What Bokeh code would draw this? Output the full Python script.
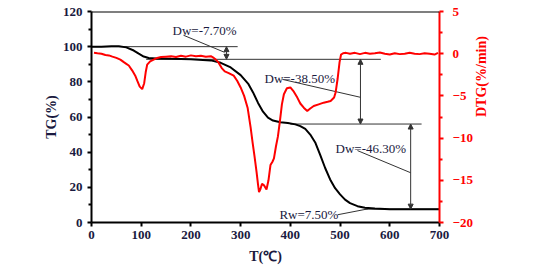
import math
from bokeh.plotting import figure
from bokeh.models import (Range1d, LinearAxis, FixedTicker, Span, Arrow, NormalHead, Label)
from bokeh.core.properties import value
from bokeh.embed import file_html
from bokeh.resources import INLINE

# ---------------- data ----------------
tg_T = [0, 20, 40, 55, 70, 85, 95, 105, 115, 130, 160, 200, 240, 260, 280, 300, 315, 325,
        335, 345, 355, 365, 380, 395, 410, 420, 430, 440, 450, 460, 470, 480, 490, 500,
        510, 520, 535, 550, 570, 600, 650, 700]
tg_val = [100, 100, 100.3, 100.3, 99.6, 97.8, 96.0, 94.4, 93.6, 93.3, 93.1, 92.9, 92.2,
          90.8, 88.2, 83.8, 79, 74, 68, 63, 59.6, 58, 57, 56.6, 55.8, 54.8, 53.2, 50,
          45.5, 38.5, 31, 24.5, 19.5, 16, 13, 11, 9.3, 8.4, 7.9, 7.6, 7.6, 7.6]

dtg_T = [5, 12, 20, 28, 35, 42, 50, 58, 65, 70, 75, 82, 88, 92, 97, 102, 106, 109, 112,
         118, 125, 132, 140, 150, 160, 170, 180, 190, 200, 210, 220, 230, 240, 246, 250,
         255, 262, 268, 276, 286, 293, 300, 307, 314, 320, 324, 328, 332, 335, 337, 340,
         343, 347, 352, 356, 360, 364, 367, 371, 375, 379, 383, 387, 393, 400, 407, 414,
         420, 427, 434, 440, 447, 457, 467, 475, 481, 488, 491, 495, 499, 502, 506, 512,
         520, 530, 540, 550, 560, 570, 580, 590, 600, 610, 620, 630, 640, 650, 660, 670,
         680, 690, 697]
dtg_val = [0.1, 0.05, 0.0, -0.15, -0.2, -0.35, -0.5, -0.7, -1.0, -1.2, -1.4, -2.0, -2.6,
           -3.2, -3.9, -4.2, -3.5, -2.2, -1.3, -0.9, -0.7, -0.5, -0.4, -0.35, -0.3, -0.4,
           -0.25, -0.35, -0.2, -0.3, -0.25, -0.35, -0.3, -0.5, -0.7, -1.0, -1.7, -2.1,
           -2.3, -2.6, -3.2, -4.0, -5.0, -6.4, -8.7, -10.5, -12.2, -14.0, -15.5, -16.4,
           -16.0, -15.4, -15.6, -16.1, -15.0, -13.2, -12.8, -12.4, -11.0, -9.8, -8.0,
           -6.0, -4.8, -4.1, -4.0, -4.5, -5.2, -5.9, -6.4, -6.8, -6.5, -6.2, -6.0, -5.8,
           -5.7, -5.6, -5.2, -4.6, -3.0, -1.0, -0.1, 0.05, 0.1, 0.0, 0.1, -0.05, 0.1,
           0.0, 0.05, 0.15, 0.0, -0.1, 0.05, -0.05, 0.0, 0.1, 0.0, -0.05, 0.05, 0.0,
           -0.1, 0.1]

x_ticks = [0, 100, 200, 300, 400, 500, 600, 700]
tg_ticks = [0, 20, 40, 60, 80, 100, 120]
dtg_ticks = [5, 0, -5, -10, -15, -20]

# stage levels (TG %) and labels
levels = [100, 92.8, 56.0, 7.6]
stage_labels = ["Dw=-7.70%", "Dw=-38.50%", "Dw=-46.30%"]
residue_label = "Rw=7.50%"

# ---------------- figure ----------------
DARK = "#1a1a40"
SERIF = "Liberation Serif"

p = figure(width=529, height=266, x_range=Range1d(0, 700), y_range=Range1d(0, 120),
           output_backend="svg", toolbar_location=None,
           min_border_left=91, min_border_right=90, min_border_top=11, min_border_bottom=44)
p.outline_line_color = None
p.grid.visible = False
p.background_fill_color = "white"
p.border_fill_color = "white"

# x axis
xa = p.xaxis[0]
xa.ticker = FixedTicker(ticks=x_ticks)
xa.axis_label = "T(℃)"
xa.axis_line_width = 2
xa.axis_line_color = "black"
xa.major_tick_out = 4
xa.major_tick_in = 0
xa.major_tick_line_width = 2
xa.minor_tick_out = 0
xa.minor_tick_in = 0
xa.major_label_standoff = 4
xa.major_label_text_font = SERIF
xa.major_label_text_font_style = "bold"
xa.major_label_text_font_size = "13px"
xa.major_label_text_color = DARK
xa.axis_label_text_font = SERIF
xa.axis_label_text_font_style = "bold"
xa.axis_label_text_font_size = "14px"
xa.axis_label_text_color = DARK
xa.axis_label_standoff = 7

# left axis
ya = p.yaxis[0]
ya.ticker = FixedTicker(ticks=tg_ticks, minor_ticks=[10, 30, 50, 70, 90, 110])
ya.axis_label = "TG(%)"
ya.axis_line_width = 2
ya.axis_line_color = "black"
ya.major_tick_out = 4
ya.major_tick_in = 0
ya.major_tick_line_width = 2
ya.minor_tick_out = 3
ya.minor_tick_in = 0
ya.minor_tick_line_width = 2
ya.major_label_standoff = 5
ya.major_label_text_font = SERIF
ya.major_label_text_font_style = "bold"
ya.major_label_text_font_size = "13px"
ya.major_label_text_color = DARK
ya.axis_label_text_font = SERIF
ya.axis_label_text_font_style = "bold"
ya.axis_label_text_font_size = "14px"
ya.axis_label_text_color = DARK
ya.axis_label_standoff = 1

# right axis
p.extra_y_ranges = {"dtg": Range1d(-20, 5)}
ra = LinearAxis(y_range_name="dtg",
                ticker=FixedTicker(ticks=dtg_ticks,
                                   minor_ticks=[2.5, -2.5, -7.5, -12.5, -17.5]))
ra.axis_line_width = 2
ra.axis_line_color = "red"
ra.major_tick_line_color = "red"
ra.minor_tick_line_color = "red"
ra.major_tick_out = 4
ra.major_tick_in = 0
ra.major_tick_line_width = 2
ra.minor_tick_out = 3
ra.minor_tick_in = 0
ra.minor_tick_line_width = 2
ra.major_label_standoff = 9
ra.major_label_text_font = SERIF
ra.major_label_text_font_style = "bold"
ra.major_label_text_font_size = "13px"
ra.major_label_text_color = "red"
ra.axis_label_text_font = SERIF
ra.axis_label_text_font_style = "bold"
ra.axis_label_text_font_size = "14px"
ra.axis_label_text_color = "red"
ra.axis_label_standoff = 6
if hasattr(ra, "axis_label_orientation"):
    ra.axis_label = "DTG(%/min)"
    ra.axis_label_orientation = math.pi / 2
else:
    p.add_layout(Label(x=483, y=144, x_units="screen", y_units="screen",
                       text="DTG(%/min)", angle=math.pi / 2,
                       text_align="center", text_baseline="middle",
                       text_font=SERIF, text_font_style="bold", text_font_size="14px",
                       text_color="red"))
p.add_layout(ra, "right")

# top border line
p.add_layout(Span(location=120, dimension="width", line_color="black", line_width=2))

# ---------------- annotations (drawn under the curves) ----------------
ANN = "#333333"
p.segment(x0=[0, 110, 400, 550], y0=levels, x1=[294, 582, 664, 700], y1=levels,
          line_color=ANN, line_width=1)
arrow_x = [271.5, 541, 642]
for i, ax in enumerate(arrow_x):
    p.add_layout(Arrow(start=NormalHead(size=5, fill_color=ANN, line_color=ANN),
                       end=NormalHead(size=5, fill_color=ANN, line_color=ANN),
                       x_start=ax, y_start=levels[i], x_end=ax, y_end=levels[i + 1],
                       line_color=ANN, line_width=1))
p.segment(x0=[185, 384, 535, 495], y0=[106.5, 81.4, 40.9, 4.4],
          x1=[267.5, 541, 642, 557], y1=[96.8, 71.2, 28.3, 7.8],
          line_color=ANN, line_width=1)

# ---------------- curves ----------------
p.line(tg_T, tg_val, line_color="black", line_width=2)
p.line(dtg_T, dtg_val, line_color="red", line_width=2, y_range_name="dtg")

# ---------------- annotation texts ----------------
p.text(x=[163, 348, 491, 378], y=[109.3, 82.0, 42.0, 4.4],
       text=stage_labels + [residue_label],
       text_font=value(SERIF), text_font_size="13px", text_color=DARK,
       text_baseline="middle", text_align="left")

open("out.html", "w").write(file_html(p, INLINE))
